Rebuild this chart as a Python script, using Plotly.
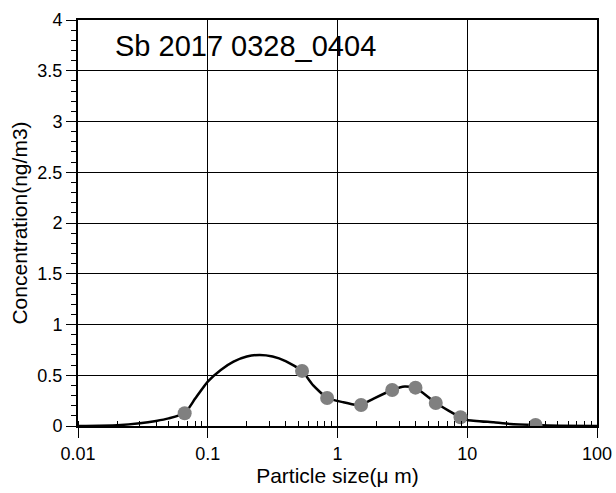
import plotly.graph_objects as go

# Measured points (particle size in µm, concentration ng/m3)
point_x = [0.0664, 0.533, 0.832, 1.52, 2.64, 3.99, 5.72, 8.87, 33.6]
point_y = [0.125, 0.543, 0.276, 0.207, 0.355, 0.378, 0.227, 0.086, 0.010]

# Fitted smooth curve
curve_x = [0.01, 0.02, 0.03, 0.04, 0.05, 0.0664, 0.08, 0.1, 0.126, 0.158,
           0.2, 0.251, 0.316, 0.398, 0.533, 0.65, 0.832, 1.11, 1.41, 1.52,
           1.9, 2.64, 3.3, 3.99, 5.72, 8.87, 10, 16, 21.5, 33.6, 52, 100]
curve_y = [0.0, 0.008, 0.027, 0.05, 0.075, 0.125, 0.27, 0.437, 0.552, 0.634,
           0.684, 0.70, 0.685, 0.64, 0.543, 0.40, 0.276, 0.234, 0.207, 0.207,
           0.27, 0.355, 0.39, 0.378, 0.227, 0.086, 0.06, 0.036, 0.02, 0.01, 0.003, 0.0]

y_ticks = [0, 0.5, 1, 1.5, 2, 2.5, 3, 3.5, 4]
y_labels = ["0", "0.5", "1", "1.5", "2", "2.5", "3", "3.5", "4"]
x_ticks = [0.01, 0.1, 1, 10, 100]
x_labels = ["0.01", "0.1", "1", "10", "100"]

title_text = "Sb 2017 0328_0404"

FONT = "Liberation Sans, Arial, Noto Sans CJK JP, sans-serif"

fig = go.Figure()
fig.add_trace(go.Scatter(x=curve_x, y=curve_y, mode="lines",
                         line=dict(color="black", width=2.5, shape="spline", smoothing=0.5),
                         showlegend=False, hoverinfo="skip"))
fig.add_trace(go.Scatter(x=point_x, y=point_y, mode="markers",
                         marker=dict(color="#808080", size=14, line=dict(width=0)),
                         showlegend=False))

fig.update_layout(
    width=616, height=493,
    margin=dict(l=78, r=19, t=20, b=67),
    paper_bgcolor="white", plot_bgcolor="white",
    font=dict(family=FONT, color="black", size=18),
    annotations=[dict(text=title_text, x=0.068, y=0.935, xref="paper", yref="paper",
                      xanchor="left", yanchor="middle", showarrow=False,
                      font=dict(size=29, family=FONT, color="black"))],
)

fig.update_xaxes(
    type="log", range=[-2, 2], automargin=False,
    tickvals=x_ticks, ticktext=x_labels,
    ticks="outside", ticklen=10, tickwidth=1, tickcolor="black",
    showline=True, linecolor="black", linewidth=2, mirror=True,
    showgrid=True, gridcolor="black", gridwidth=1,
    zeroline=False,
    tickfont=dict(size=18),
    minor=dict(ticks="inside", ticklen=5, tickwidth=1, tickcolor="black",
               dtick="D1", showgrid=False),
    title=dict(text="Particle size(μ m)", font=dict(size=21), standoff=6),
)
fig.update_yaxes(
    range=[0, 4], automargin=False,
    tickvals=y_ticks, ticktext=y_labels,
    ticks="outside", ticklen=10, tickwidth=1, tickcolor="black",
    showline=True, linecolor="black", linewidth=2, mirror=True,
    showgrid=True, gridcolor="black", gridwidth=1,
    zeroline=False,
    tickfont=dict(size=18),
    minor=dict(ticks="outside", ticklen=5, tickwidth=1, tickcolor="black",
               dtick=0.1, showgrid=False),
    title=dict(text="Concentration(ng/m3)", font=dict(size=21), standoff=4),
)

fig.write_html("out.html")
